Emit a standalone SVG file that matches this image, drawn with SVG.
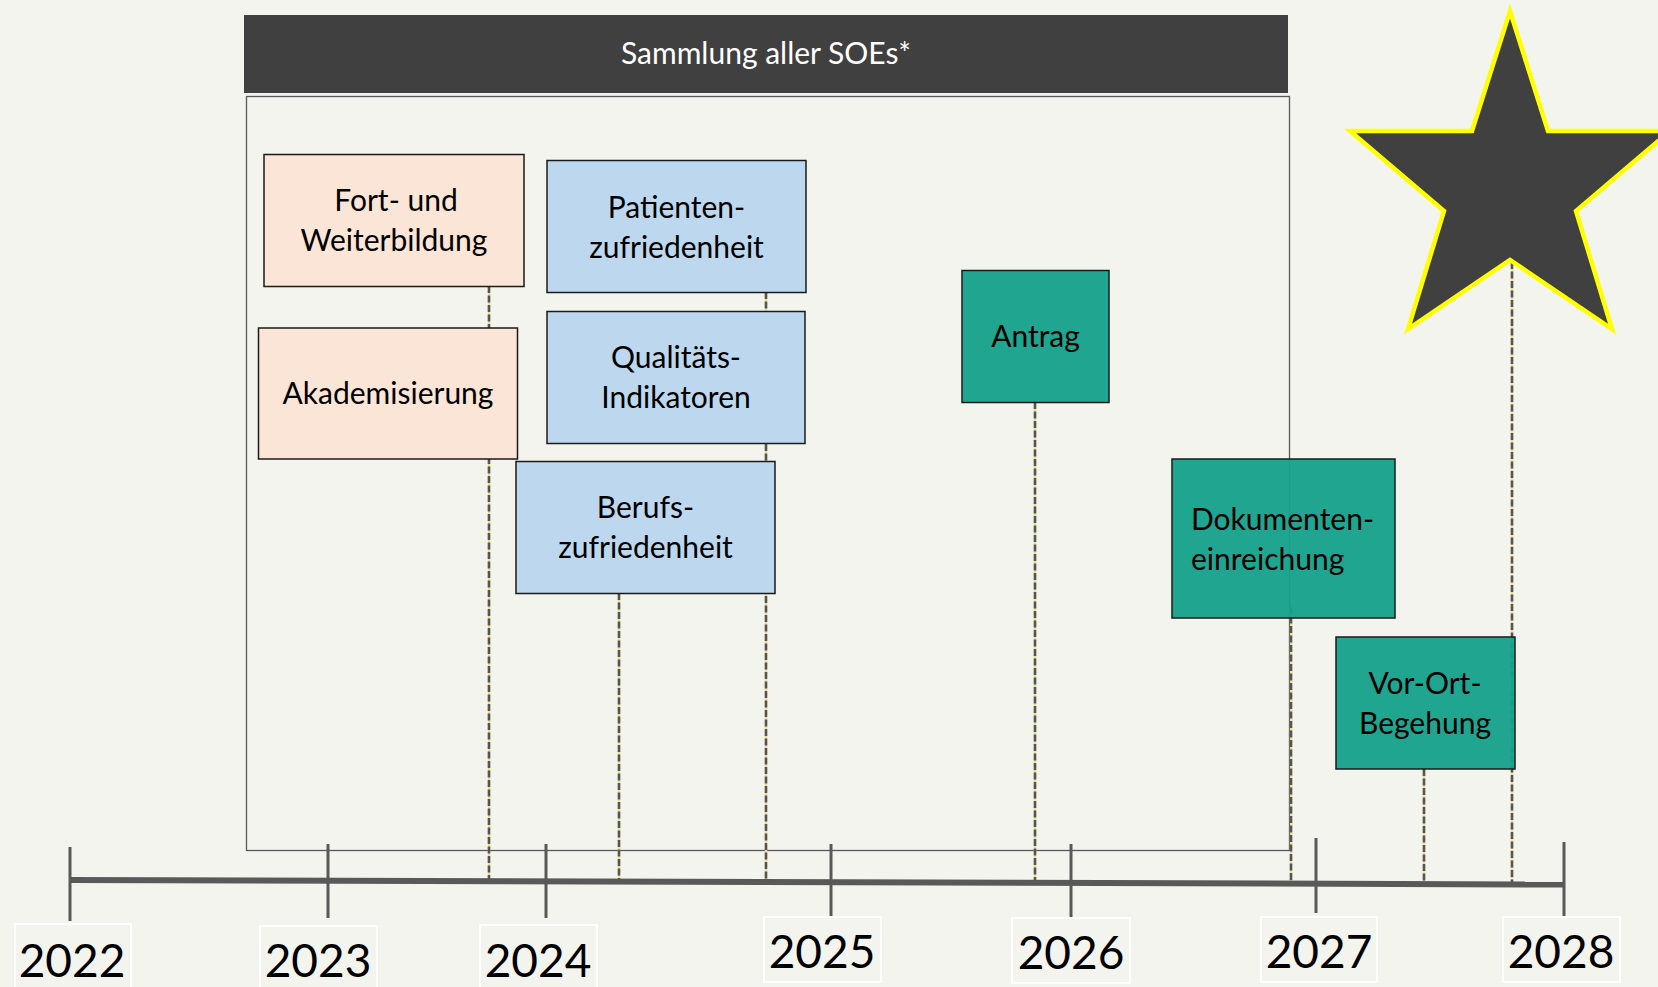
<svg xmlns="http://www.w3.org/2000/svg" width="1658" height="987" viewBox="0 0 1658 987">
  <defs>
    <style>
      .label { font-family: Lato, "Open Sans", "Liberation Sans", sans-serif; font-size: 30px; fill: #000; text-anchor: middle; }
      .year { font-family: Lato, "Open Sans", "Liberation Sans", sans-serif; font-size: 46px; fill: #000; text-anchor: middle; }
      .head { font-family: Lato, "Open Sans", "Liberation Sans", sans-serif; font-size: 30px; fill: #fff; text-anchor: middle; }
      .box { stroke: #1a1a1a; stroke-width: 1.5; }
      .peach { fill: #FBE5D6; }
      .blue { fill: #BDD7EE; }
      .teal { fill: #17A18C; fill-opacity: 0.96; }
      .guide-base { stroke: #F1DD92; stroke-width: 2.4; fill: none; }
      .guide { stroke: #555555; stroke-width: 2.6; stroke-dasharray: 7 2.5; fill: none; }
      .tick { stroke: #595959; stroke-width: 3; }
      .yearbox { fill: none; stroke: #ffffff; stroke-width: 2; }
    </style>
  </defs>

  <!-- background -->
  <rect x="0" y="0" width="1658" height="987" fill="#F3F4EE"/>

  <!-- frame for the SOE collection phase -->
  <g id="soe-frame">
    <rect x="246.5" y="96.5" width="1043" height="754" fill="none" stroke="#595959" stroke-width="1.3"/>
  </g>

  <!-- header bar -->
  <g id="header">
    <rect x="244" y="15" width="1044" height="78" fill="#404040"/>
    <text class="head" x="766" y="64">Sammlung aller SOEs*</text>
  </g>

  <!-- dashed guides from each milestone down to the time axis -->
  <g id="connectors">
    <g class="guide-base">
      <line x1="489" y1="286" x2="489" y2="880"/>
      <line x1="766" y1="292" x2="766" y2="882"/>
      <line x1="619" y1="593" x2="619" y2="881"/>
      <line x1="1035" y1="402" x2="1035" y2="883"/>
      <line x1="1291" y1="607" x2="1291" y2="884"/>
      <line x1="1424" y1="769" x2="1424" y2="884"/>
      <line x1="1512" y1="262" x2="1512" y2="885"/>
    </g>
    <g class="guide">
      <line x1="489" y1="286" x2="489" y2="880"/>
      <line x1="766" y1="292" x2="766" y2="882"/>
      <line x1="619" y1="593" x2="619" y2="881"/>
      <line x1="1035" y1="402" x2="1035" y2="883"/>
      <line x1="1291" y1="607" x2="1291" y2="884"/>
      <line x1="1424" y1="769" x2="1424" y2="884"/>
      <line x1="1512" y1="262" x2="1512" y2="885"/>
    </g>
  </g>

  <!-- time axis -->
  <g id="axis">
    <line x1="70" y1="880" x2="1564" y2="884.5" stroke="#595959" stroke-width="6"/>
    <line class="tick" x1="70" y1="847" x2="70" y2="921"/>
    <line class="tick" x1="328" y1="844" x2="328" y2="918"/>
    <line class="tick" x1="546" y1="844" x2="546" y2="918"/>
    <line class="tick" x1="831" y1="844" x2="831" y2="918"/>
    <line class="tick" x1="1071" y1="844" x2="1071" y2="918"/>
    <line class="tick" x1="1316" y1="838" x2="1316" y2="913"/>
    <line class="tick" x1="1564" y1="842" x2="1564" y2="916"/>
  </g>

  <!-- year labels -->
  <g id="year-2022">
    <rect class="yearbox" x="15" y="924" width="116" height="70"/>
    <text class="year" x="72" y="977">2022</text>
  </g>
  <g id="year-2023">
    <rect class="yearbox" x="260" y="926" width="117" height="70"/>
    <text class="year" x="318" y="977">2023</text>
  </g>
  <g id="year-2024">
    <rect class="yearbox" x="480" y="925" width="117" height="70"/>
    <text class="year" x="538" y="977">2024</text>
  </g>
  <g id="year-2025">
    <rect class="yearbox" x="764" y="917" width="117" height="65"/>
    <text class="year" x="822" y="968">2025</text>
  </g>
  <g id="year-2026">
    <rect class="yearbox" x="1012" y="918" width="118" height="65"/>
    <text class="year" x="1071" y="969">2026</text>
  </g>
  <g id="year-2027">
    <rect class="yearbox" x="1261" y="917" width="116" height="65"/>
    <text class="year" x="1319" y="968">2027</text>
  </g>
  <g id="year-2028">
    <rect class="yearbox" x="1503" y="917" width="117" height="65"/>
    <text class="year" x="1561" y="968">2028</text>
  </g>

  <!-- milestones -->
  <g id="fort-weiterbildung">
    <rect class="box peach" x="264" y="154.5" width="260" height="132"/>
    <text class="label" x="396" y="211">Fort- und</text>
    <text class="label" x="394" y="250.5">Weiterbildung</text>
  </g>
  <g id="akademisierung">
    <rect class="box peach" x="258.5" y="328" width="259" height="131"/>
    <text class="label" x="388" y="403.5">Akademisierung</text>
  </g>
  <g id="patientenzufriedenheit">
    <rect class="box blue" x="547" y="160.5" width="259" height="132"/>
    <text class="label" x="676.5" y="217.5">Patienten-</text>
    <text class="label" x="676.5" y="257.5">zufriedenheit</text>
  </g>
  <g id="qualitaetsindikatoren">
    <rect class="box blue" x="547" y="311.5" width="258" height="132"/>
    <text class="label" x="676" y="368">Qualitäts-</text>
    <text class="label" x="676" y="408">Indikatoren</text>
  </g>
  <g id="berufszufriedenheit">
    <rect class="box blue" x="516" y="461.5" width="259" height="132"/>
    <text class="label" x="645.5" y="518">Berufs-</text>
    <text class="label" x="645.5" y="558">zufriedenheit</text>
  </g>
  <g id="antrag">
    <rect class="box teal" x="962" y="270.5" width="147" height="132"/>
    <text class="label" x="1035.5" y="347">Antrag</text>
  </g>
  <g id="dokumenteneinreichung">
    <rect class="box teal" x="1172" y="459" width="223" height="159"/>
    <text class="label" x="1191" y="530" style="text-anchor:start">Dokumenten-</text>
    <text class="label" x="1191" y="570" style="text-anchor:start">einreichung</text>
  </g>
  <g id="vor-ort-begehung">
    <rect class="box teal" x="1336" y="637" width="179" height="132"/>
    <text class="label" x="1425" y="693.5">Vor-Ort-</text>
    <text class="label" x="1425" y="733.5">Begehung</text>
  </g>

  <!-- goal star -->
  <g id="goal-star">
    <polygon points="1510,11 1548,131 1670,131 1576,211 1612,329 1510,260 1408,329 1444,211 1350,131 1472,131" fill="#404040" stroke="#FFFF00" stroke-width="4.5"/>
  </g>
</svg>
